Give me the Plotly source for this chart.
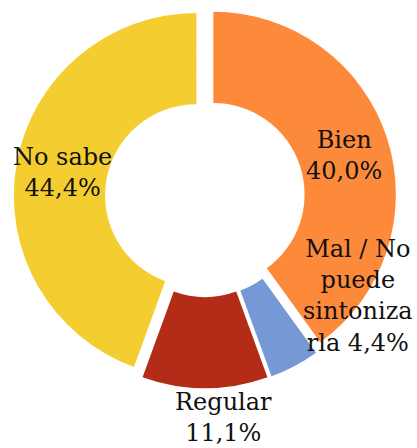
import plotly.graph_objects as go

# Data
categories = ["Bien", "Mal / No puede sintonizarla", "Regular", "No sabe"]
values = [40.0, 4.4, 11.1, 44.4]
colors = ["#FD8A3A", "#7598D6", "#B22C18", "#F4CD30"]

# Display labels (wrapped as in the reference) and joiner before the percentage
display_labels = ["Bien", "Mal / No<br>puede<br>sintoniza<br>rla", "Regular", "No sabe"]
joiners = ["<br>", " ", "<br>", "<br>"]

# Label anchor positions (paper coords)
label_pos = [(0.825, 0.654), (0.859, 0.339), (0.537, 0.067), (0.149, 0.616)]


def fmt(v):
    return f"{v:.1f}".replace(".", ",") + "%"


fig = go.Figure()
fig.add_trace(go.Pie(
    labels=categories,
    values=values,
    marker=dict(colors=colors, line=dict(width=0)),
    hole=0.5,
    pull=[0.048] * len(values),
    sort=False,
    direction="clockwise",
    rotation=0,
    textinfo="none",
    hoverinfo="label+percent",
    domain=dict(x=[0.0329, 0.9503], y=[0.1333, 0.9873]),
    showlegend=False,
))

for lab, j, v, (x, y) in zip(display_labels, joiners, values, label_pos):
    fig.add_annotation(
        x=x, y=y, xref="paper", yref="paper",
        text=lab + j + fmt(v),
        showarrow=False,
        xanchor="center", yanchor="middle",
        font=dict(family="DejaVu Serif", size=24, color="#111111"),
    )

fig.update_layout(
    width=417, height=448,
    margin=dict(l=0, r=0, t=0, b=0),
    paper_bgcolor="white",
    plot_bgcolor="white",
)

fig.write_html(
    "out.html",
    config={"displayModeBar": False},
    post_script="document.body.style.margin='0';document.body.style.overflow='hidden';",
)
